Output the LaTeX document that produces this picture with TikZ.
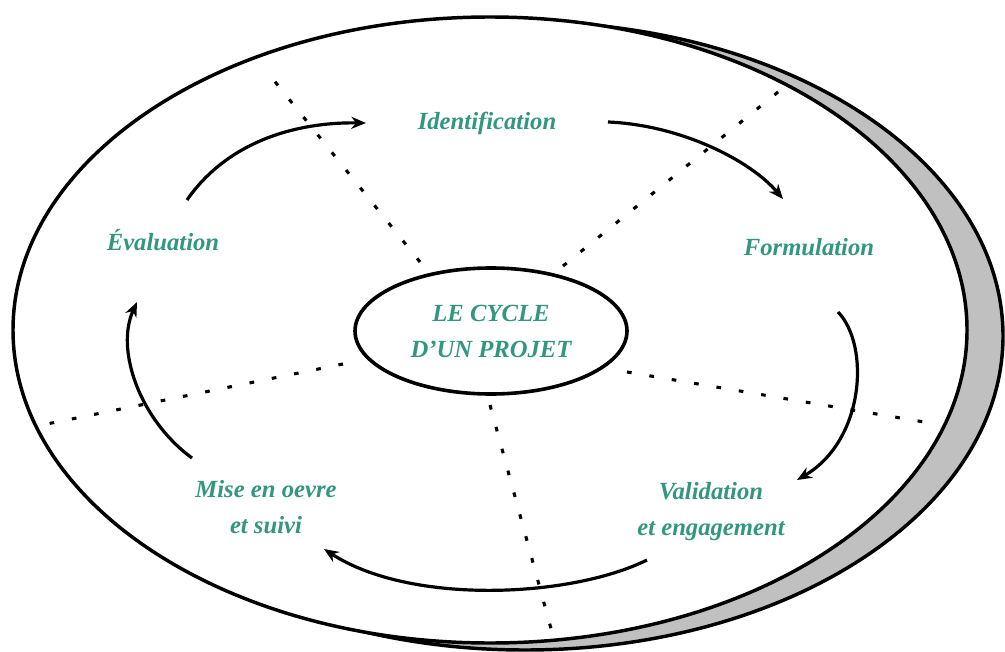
\documentclass[tikz,border=0pt]{standalone}
\usepackage{fontspec}
\setmainfont{Liberation Serif}
\usetikzlibrary{arrows.meta,shapes.geometric}
\definecolor{labelteal}{RGB}{50,150,128}
\definecolor{shadowgray}{RGB}{192,192,192}
\begin{document}
\begin{tikzpicture}[x=0.75pt,y=-0.75pt,
  rim/.style={line width=2.6pt},
  sepline/.style={line width=2.3pt, dash pattern=on 3.5pt off 13.5pt},
  cyc/.style={line width=2.4pt, -{Stealth[length=11pt,width=9pt]}},
  lbl/.style={text=labelteal, font=\fontsize{18.5}{27}\selectfont\bfseries\itshape, align=center, inner sep=0pt}]
\useasboundingbox (0,0) rectangle (1005,652);
\fill[white] (0,0) rectangle (1005,652);
% shadow and plate
\draw[rim, fill=shadowgray] (525,336) ellipse [x radius=358.5pt, y radius=235.5pt];
\draw[rim, fill=white] (490,330) ellipse [x radius=357.75pt, y radius=234.75pt];
% separators
\coordinate (s1a) at (420,262); \coordinate (s1b) at (268,73);
\coordinate (s2a) at (563,266); \coordinate (s2b) at (783,88);
\coordinate (s3a) at (627,372); \coordinate (s3b) at (930,423);
\coordinate (s4a) at (490,405); \coordinate (s4b) at (553,636);
\coordinate (s5a) at (343,364); \coordinate (s5b) at (42,425);
\draw[sepline] (s1a) -- (s1b);
\draw[sepline] (s2a) -- (s2b);
\draw[sepline] (s3a) -- (s3b);
\draw[sepline] (s4a) -- (s4b);
\draw[sepline] (s5a) -- (s5b);
% centre
\node (core) [ellipse, draw, line width=2.7pt, fill=white, minimum width=204pt, minimum height=94.5pt, inner sep=0pt, lbl] at (491,331) {LE CYCLE\\D’UN PROJET};
% labels
\node (ident) [lbl] at (487,123) {Identification};
\node (formul) [lbl] at (809,247) {Formulation};
\node (valid) [lbl] at (711,512) {Validation\\et engagement};
\node (mise) [lbl] at (266,507) {Mise en oevre\\et suivi};
\node (evalu) [lbl] at (163,240) {Évaluation};
% cycle arrows
\coordinate (a1s) at (187,200); \coordinate (a1e) at (366,123);
\coordinate (a2s) at (608,122); \coordinate (a2e) at (783,199);
\coordinate (a3s) at (838,312); \coordinate (a3e) at (797,480);
\coordinate (a4s) at (647,560); \coordinate (a4e) at (324,549);
\coordinate (a5s) at (192,458); \coordinate (a5e) at (137,302);
\draw[cyc] (a1s) .. controls (225,145) and (290,122) .. (a1e);
\draw[cyc] (a2s) .. controls (680,125) and (750,160) .. (a2e);
\draw[cyc] (a3s) .. controls (870,345) and (865,440) .. (a3e);
\draw[cyc] (a4s) .. controls (570,598) and (410,605) .. (a4e);
\draw[cyc] (a5s) .. controls (140,420) and (115,350) .. (a5e);
\end{tikzpicture}
\end{document}
